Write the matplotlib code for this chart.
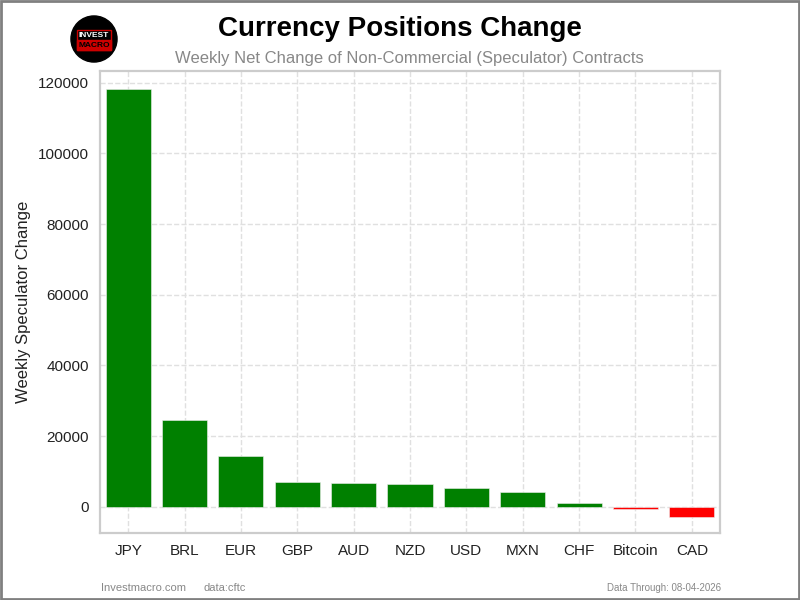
import matplotlib
matplotlib.use('Agg')
import matplotlib.pyplot as plt
from matplotlib.patches import Circle, Rectangle

plt.rcParams['font.family'] = ['Liberation Sans', 'DejaVu Sans']

# Data
currencies = ['JPY', 'BRL', 'EUR', 'GBP', 'AUD', 'NZD', 'USD', 'MXN', 'CHF', 'Bitcoin', 'CAD']
changes = [118100, 24540, 14430, 7080, 6790, 6510, 5380, 4250, 950, -550, -2920]

title = 'Currency Positions Change'
subtitle = 'Weekly Net Change of Non-Commercial (Speculator) Contracts'
data_date = '08-04-2026'

colors = ['#008000' if v >= 0 else '#ff0000' for v in changes]

fig = plt.figure(figsize=(8, 6), dpi=100)
ax = fig.add_axes([0.125, 0.1117, 0.775, 0.77])

x = range(len(currencies))
ax.bar(x, changes, width=0.8, color=colors, edgecolor='#eeeeee', linewidth=0.4, zorder=3)

ax.set_xticks(list(x))
ax.set_xticklabels(currencies)
ax.set_xlim(-0.5, len(currencies) - 0.5)
ax.set_ylim(-7400, 123300)
ax.set_yticks([0, 20000, 40000, 60000, 80000, 100000, 120000])
ax.tick_params(axis='both', length=0, labelsize=11, labelcolor='#222222', pad=8)
ax.set_ylabel('Weekly Speculator Change', fontsize=12, color='#222222', labelpad=5)

ax.grid(True, linestyle='--', color='#e0e0e0', linewidth=1, zorder=0)
ax.set_axisbelow(True)
for s in ax.spines.values():
    s.set_color('#cccccc')
    s.set_linewidth(1.6)

# titles
fig.text(0.5, 0.952, title, ha='center', va='center', fontsize=20, fontweight='bold', color='black')
fig.text(0.512, 0.903, subtitle, ha='center', va='center', fontsize=12, color='#888888')

# logo
logo_ax = fig.add_axes([0.0875, 0.895, 0.06, 0.08])
logo_ax.set_xlim(0, 1)
logo_ax.set_ylim(0, 1)
logo_ax.set_aspect('equal')
logo_ax.axis('off')
logo_ax.add_patch(Circle((0.5, 0.5), 0.48, color='black'))
logo_ax.add_patch(Rectangle((0.14, 0.27), 0.72, 0.42, fill=False, edgecolor='#cc0000', linewidth=1))
logo_ax.add_patch(Rectangle((0.14, 0.27), 0.72, 0.2, color='#cc0000'))
logo_ax.text(0.5, 0.58, 'INVEST', ha='center', va='center', color='white', fontsize=6, fontweight='bold')
logo_ax.text(0.5, 0.37, 'MACRO', ha='center', va='center', color='black', fontsize=6, fontweight='bold')

# footer
fig.text(0.126, 0.02, 'Investmacro.com', fontsize=8, color='#888888', va='center')
fig.text(0.254, 0.02, 'data:cftc', fontsize=8, color='#888888', va='center')
fig.text(0.901, 0.02, 'Data Through: ' + data_date, fontsize=7, color='#888888', ha='right', va='center')

# border
fig.patches.append(Rectangle((0.001, 0.001), 0.998, 0.997, transform=fig.transFigure,
                             fill=False, edgecolor='#808080', linewidth=2))

fig.savefig('out.png', dpi=100)
